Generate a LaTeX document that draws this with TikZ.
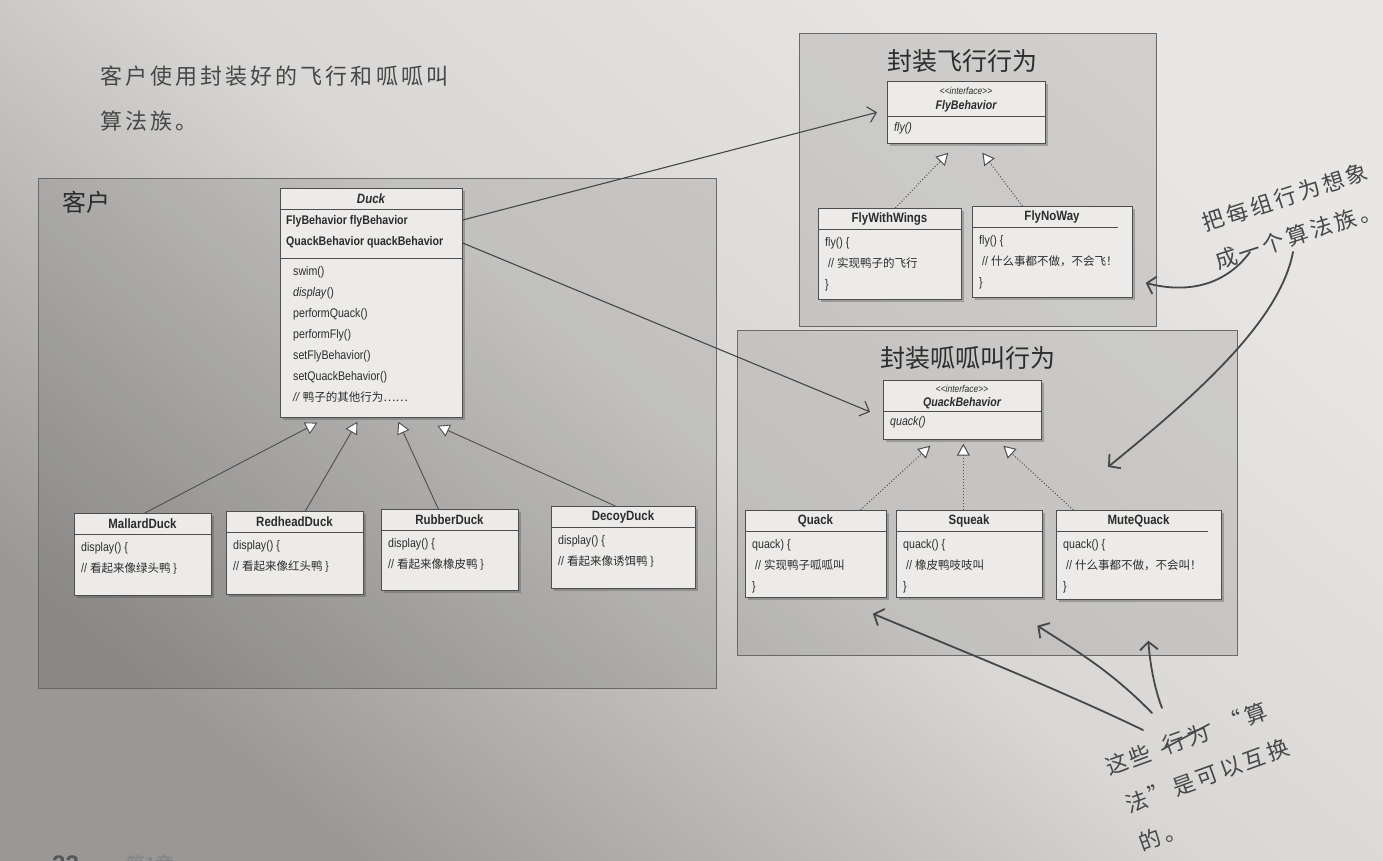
\documentclass[tikz,border=0pt]{standalone}
\usepackage{fontspec}
\setmainfont{Liberation Sans}
\newfontfamily\cjk{Noto Sans CJK SC}
\newfontfamily\handfont[LetterSpace=14]{Noto Sans CJK SC}
\newfontfamily\umlfont[FakeStretch=0.85]{Liberation Sans}
\usetikzlibrary{arrows.meta,shadows,calc}
\definecolor{linecol}{HTML}{4E4E4E}
\definecolor{txt}{HTML}{2C2C2C}
\definecolor{boxfill}{HTML}{ECEBE9}
\definecolor{hand}{HTML}{474747}
\definecolor{bgA}{HTML}{E8E7E5}
\definecolor{bgB}{HTML}{D8D7D5}
\definecolor{bgD}{HTML}{9A9896}
\tikzset{
  group/.style={draw=linecol!85, line width=1.3pt, fill=black, fill opacity=0.1, draw opacity=1, inner sep=0},
  gtitle/.style={font=\cjk\fontsize{25}{28}\selectfont, text=txt, inner sep=0},
  classbox/.style={draw=linecol, line width=0.7pt, fill=boxfill, inner sep=0,
    drop shadow={shadow xshift=3pt, shadow yshift=-3pt, opacity=0.35, fill=black!70}},
  divider/.style={draw=linecol, line width=0.7pt},
  ctitle/.style={font=\umlfont\bfseries\fontsize{13.5}{15}\selectfont, text=txt, inner sep=0},
  cattr/.style={font=\umlfont\bfseries\fontsize{12.5}{21}\selectfont, text=txt, inner sep=0, align=left},
  cbody/.style={font=\umlfont\fontsize{12.5}{21}\selectfont, text=txt, inner sep=0, align=left},
  stereo/.style={font=\umlfont\fontsize{10}{11}\selectfont, text=txt, inner sep=0},
  inherit/.style={draw=linecol, line width=0.9pt, -{Triangle[length=12pt,width=13pt,fill=white]}},
  realize/.style={draw=linecol, line width=1pt, dotted, -{Triangle[length=12pt,width=13pt,fill=white]}},
  assoc/.style={draw=linecol!90!black, line width=1.1pt, -{Straight Barb[length=8pt,width=16pt]}},
  handarrow/.style={draw=hand, line width=1.8pt, line cap=round, -{Straight Barb[length=8pt,width=18pt,line width=1.8pt]}},
  handtext/.style={font=\handfont\fontsize{22}{26}\selectfont, text=hand, inner sep=0},
}
\newcommand\cm[1]{{\cjk\fontsize{11.5}{21}\selectfont #1}}
\newcommand\umlclass[8]{%
  \pgfmathsetmacro\uw{#4-#2}%
  \pgfmathsetmacro\uh{#5-#3}%
  \pgfmathsetmacro\ucx{(#2+#4)/2}%
  \node[classbox,minimum width=\uw pt,minimum height=\uh pt,anchor=north west] (#1) at (#2,#3) {};
  \draw[divider] (#2,#3+21) -- (#6,#3+21);
  \node[ctitle] (#1-t) at (\ucx,#3+11) {#7};
  \node[cbody,anchor=north west] (#1-b) at (#2+7,#3+29) {#8};
}
\begin{document}
\begin{tikzpicture}[x=1pt,y=-1pt]
\useasboundingbox (0,0) rectangle (1383,860);
\clip (0,0) rectangle (1383,860);
% page background
\shade[shading=axis, top color=bgA, bottom color=bgD, middle color=bgB, shading angle=-40] (0,0) rectangle (1383,860);

% handwritten caption
\node[handtext,anchor=west] (cap1) at (100,76) {客户使用封装好的飞行和呱呱叫};
\node[handtext,anchor=west] (cap2) at (100,121) {算法族。};

% groups
\node[group,minimum width=678pt,minimum height=510pt,anchor=north west] (client) at (38,178) {};
\node[gtitle,anchor=west,font=\cjk\fontsize{24}{26}\selectfont] (client-l) at (62,202) {客户};
\node[group,minimum width=357pt,minimum height=293pt,anchor=north west] (flygrp) at (799,33) {};
\node[gtitle] (flygrp-l) at (962,61) {封装飞行行为};
\node[group,minimum width=500pt,minimum height=325pt,anchor=north west] (quackgrp) at (737,330) {};
\node[gtitle] (quackgrp-l) at (968,358) {封装呱呱叫行为};

% Duck
\node[classbox,minimum width=182pt,minimum height=229pt,anchor=north west] (duck) at (280,188) {};
\draw[divider] (280,209) -- (462,209);
\draw[divider] (280,258) -- (462,258);
\node[ctitle,font=\umlfont\bfseries\itshape\fontsize{13.5}{15}\selectfont] (duck-t) at (371,199) {Duck};
\node[cattr,anchor=north west] (duck-a) at (286,215) {FlyBehavior flyBehavior\\QuackBehavior quackBehavior};
\node[cbody,anchor=north west] (duck-m) at (293,266) {swim()\\\textit{display}()\\performQuack()\\performFly()\\setFlyBehavior()\\setQuackBehavior()\\\textit{//} \cm{鸭子的其他行为……}};

% Duck subclasses
\umlclass{mallard}{74}{513}{211}{595}{211}{MallardDuck}{display() \{\\// \cm{看起来像绿头鸭 \}}}
\umlclass{redhead}{226}{511}{363}{594}{363}{RedheadDuck}{display() \{\\// \cm{看起来像红头鸭 \}}}
\umlclass{rubber}{381}{509}{518}{590}{518}{RubberDuck}{display() \{\\// \cm{看起来像橡皮鸭 \}}}
\umlclass{decoy}{551}{506}{695}{588}{695}{DecoyDuck}{display() \{\\// \cm{看起来像诱饵鸭 \}}}

% FlyBehavior interface
\node[classbox,minimum width=158pt,minimum height=62pt,anchor=north west] (fly) at (887,81) {};
\node[stereo] (fly-s) at (966,91) {\textless\textless\textit{interface}\textgreater\textgreater};
\node[ctitle,font=\umlfont\bfseries\itshape\fontsize{12.5}{14}\selectfont] (fly-n) at (966,106) {FlyBehavior};
\draw[divider] (887,116) -- (1045,116);
\node[cbody,anchor=west] (fly-m) at (894,128) {\textit{fly()}};

% Fly implementations
\umlclass{wings}{818}{208}{961}{299}{961}{FlyWithWings}{fly() \{\\\ // \cm{实现鸭子的飞行}\\\}}
\umlclass{noway}{972}{206}{1132}{297}{1118}{FlyNoWay}{fly() \{\\\ // \cm{什么事都不做，不会飞！}\\\}}

% QuackBehavior interface
\node[classbox,minimum width=158pt,minimum height=59pt,anchor=north west] (qb) at (883,380) {};
\node[stereo] (qb-s) at (962,389) {\textless\textless\textit{interface}\textgreater\textgreater};
\node[ctitle,font=\umlfont\bfseries\itshape\fontsize{12.5}{14}\selectfont] (qb-n) at (962,403) {QuackBehavior};
\draw[divider] (883,411) -- (1041,411);
\node[cbody,anchor=west] (qb-m) at (890,422) {\textit{quack()}};

% Quack implementations
\umlclass{quack}{745}{510}{886}{597}{886}{Quack}{quack) \{\\\ // \cm{实现鸭子呱呱叫}\\\}}
\umlclass{squeak}{896}{510}{1042}{597}{1042}{Squeak}{quack() \{\\\ // \cm{橡皮鸭吱吱叫}\\\}}
\umlclass{mute}{1056}{510}{1221}{599}{1208}{MuteQuack}{quack() \{\\\ // \cm{什么事都不做，不会叫！}\\\}}

% inheritance
\draw[inherit] ([xshift=2pt]mallard.north) -- ([xshift=-54pt,yshift=-5pt]duck.south);
\draw[inherit] ([xshift=10.5pt]redhead.north) -- ([xshift=-14pt,yshift=-4pt]duck.south);
\draw[inherit] ([xshift=-11.5pt]rubber.north) -- ([xshift=27pt,yshift=-4pt]duck.south);
\draw[inherit] ([xshift=-8pt]decoy.north) -- ([xshift=66pt,yshift=-8pt]duck.south);

% realizations
\draw[realize] ([xshift=5.5pt]wings.north) -- ([xshift=-18pt,yshift=-9pt]fly.south);
\draw[realize] ([xshift=-30pt]noway.north) -- ([xshift=16pt,yshift=-9pt]fly.south);
\draw[realize] ([xshift=44.5pt]quack.north) -- ([xshift=-32pt,yshift=-6pt]qb.south);
\draw[realize] ([xshift=-6pt]squeak.north) -- ([xshift=1pt,yshift=-4pt]qb.south);
\draw[realize] ([xshift=-65.5pt]mute.north) -- ([xshift=41pt,yshift=-6pt]qb.south);

% associations
\draw[assoc] ([yshift=-32pt]duck.north east) -- ([xshift=-10pt]fly.west);
\draw[assoc] ([yshift=-55pt]duck.north east) -- ([xshift=-13pt,yshift=-2pt]qb.west);

% right annotation
\begin{scope}[shift={(1203,224)},rotate=18,transform shape]
  \node[handtext,anchor=west] (note1) at (0,0) {把每组行为想象};
  \node[handtext,anchor=west] (note2) at (0,40) {成一个算法族。};
\end{scope}
\coordinate (h1) at (1250,252);
\coordinate (h2) at (1293,252);
\coordinate (h2end) at (1108,467);
\draw[handarrow] (h1) .. controls (1222,290) and (1180,292) .. ([xshift=13pt,yshift=-31pt]noway.east);
\draw[handarrow] (h2) .. controls (1280,320) and (1200,392) .. (h2end);

% bottom annotation
\begin{scope}[shift={(1106,768)},rotate=20,transform shape]
  \node[handtext,anchor=west] (b1) at (0,0) {这些};
  \node[handtext,anchor=west] (b2) at ([xshift=14pt]b1.east) {行为};
  \node[handtext,anchor=west] (b3) at ([xshift=14pt]b2.east) {“算};
  \node[handtext,anchor=west] (b4) at (6,42) {法”是可以互换};
  \node[handtext,anchor=west] (b5) at (6,82) {的。};
  \draw[draw=hand,line width=1.6pt,line cap=round] ([xshift=-3pt,yshift=-2pt]b2.west) .. controls ([yshift=2pt]b2.center) .. ([xshift=3pt,yshift=6pt]b2.east);
\end{scope}
\coordinate (s1) at (1143,730);
\coordinate (s2) at (1152,713);
\coordinate (s3) at (1162,708);
\draw[handarrow] (s1) .. controls (1060,690) and (960,650) .. ([xshift=57pt,yshift=-16pt]quack.south);
\draw[handarrow] (s2) .. controls (1110,670) and (1075,650) .. ([xshift=68pt,yshift=-28pt]squeak.south);
\draw[handarrow] (s3) .. controls (1155,690) and (1150,665) .. ([xshift=9.5pt,yshift=-41pt]mute.south);

% page footer
\node[font=\bfseries\fontsize{24}{26}\selectfont,text=txt!80,anchor=west,inner sep=0] (pg) at (52,864) {22};
\node[font=\cjk\fontsize{19}{22}\selectfont,text=txt!60,anchor=west,inner sep=0] (ch) at (126,864) {第1章};
\end{tikzpicture}
\end{document}
